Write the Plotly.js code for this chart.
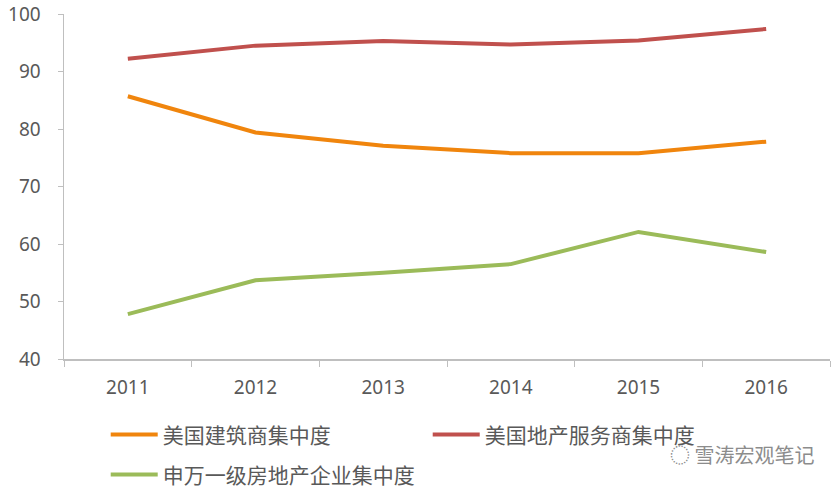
<!DOCTYPE html>
<html>
<head>
<meta charset="utf-8">
<script src="https://cdn.plot.ly/plotly-3.0.1.min.js"></script>
<style>
  html, body { margin: 0; padding: 0; background: #fff; }
  #chart { width: 839px; height: 492px; }
</style>
</head>
<body>
<div id="chart"></div>
<script>
const years = ['2011', '2012', '2013', '2014', '2015', '2016'];
const yTicks = [40, 50, 60, 70, 80, 90, 100];
const builders = [85.7, 79.4, 77.1, 75.8, 75.8, 77.8];
const services = [92.2, 94.5, 95.3, 94.7, 95.4, 97.4];
const swDevelopers = [47.8, 53.7, 55.0, 56.5, 62.1, 58.6];

const names = ['美国建筑商集中度', '美国地产服务商集中度', '申万一级房地产企业集中度'];
const colors = ['#F0850D', '#C0504D', '#9BBB59'];

const font = '"Noto Sans CJK SC", "Noto Sans", sans-serif';
const tickFont = '"Noto Sans", "Open Sans", sans-serif';

const traces = [
    {x: years, y: builders, name: names[0], legend: 'legend'},
    {x: years, y: services, name: names[1], legend: 'legend'},
    {x: years, y: swDevelopers, name: names[2], legend: 'legend2'},
].map(function(t, i) {
    return Object.assign(t, {
        type: 'scatter',
        mode: 'lines',
        line: {color: colors[i], width: 4},
        hoverinfo: 'skip',
    });
});

// legends sit in container coordinates so they don't push the plot margins
const legendBase = {
    orientation: 'h',
    xref: 'container',
    yref: 'container',
    xanchor: 'left',
    yanchor: 'middle',
    font: {family: font, size: 21, color: '#595959'},
    bgcolor: 'rgba(0,0,0,0)',
    itemwidth: 47,
    entrywidth: 260,
    traceorder: 'normal',
};

const layout = {
    width: 839,
    height: 492,
    margin: {l: 64, r: 9, t: 14, b: 133},
    paper_bgcolor: '#fff',
    plot_bgcolor: '#fff',
    font: {family: font, color: '#595959'},
    xaxis: {
        type: 'category',
        range: [-0.5, 5.5],
        showgrid: false,
        zeroline: false,
        showline: true,
        linecolor: '#BFBFBF',
        linewidth: 1.5,
        ticks: 'outside',
        ticklen: 6,
        tickcolor: '#BFBFBF',
        tickson: 'boundaries',
        ticklabelstandoff: 11,
        tickfont: {family: tickFont, size: 19, color: '#595959'},
        fixedrange: true,
    },
    yaxis: {
        range: [40, 100],
        tickmode: 'array',
        tickvals: yTicks,
        ticktext: yTicks.map(String),
        showgrid: false,
        zeroline: false,
        showline: true,
        linecolor: '#BFBFBF',
        linewidth: 1.5,
        ticks: 'outside',
        ticklen: 5,
        tickcolor: '#BFBFBF',
        ticklabelstandoff: 13,
        tickfont: {family: tickFont, size: 19, color: '#595959'},
        fixedrange: true,
    },
    showlegend: true,
    legend: Object.assign({}, legendBase, {x: 0.126, y: 0.116}),
    legend2: Object.assign({}, legendBase, {x: 0.126, y: 0.035}),
    annotations: [
        {
            text: '◌ 雪涛宏观笔记',
            xref: 'paper', yref: 'paper',
            x: 0.982, y: -0.278,
            xanchor: 'right', yanchor: 'middle',
            showarrow: false,
            font: {family: font, size: 20, color: '#8c8c8c'},
        },
    ],
};

Plotly.newPlot('chart', traces, layout, {displayModeBar: false, staticPlot: true});
</script>
</body>
</html>
